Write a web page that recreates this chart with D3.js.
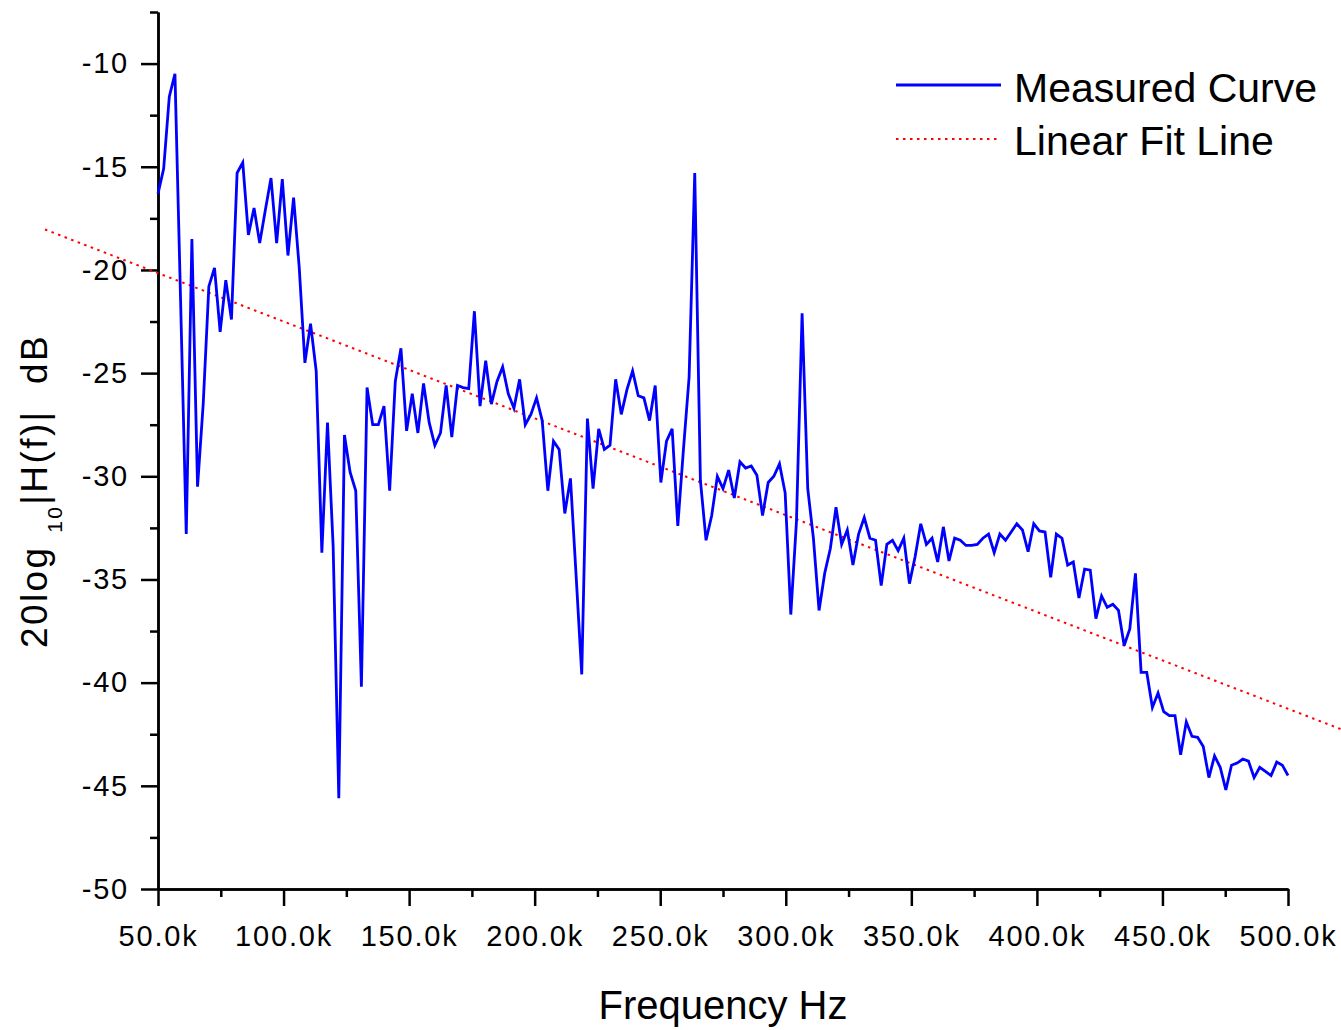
<!DOCTYPE html>
<html>
<head>
<meta charset="utf-8">
<script src="https://cdn.jsdelivr.net/npm/d3@7"></script>
<style>
  body { margin: 0; background: #fff; }
  svg { display: block; font-family: "Liberation Sans", Arial, sans-serif; }
</style>
</head>
<body>
<svg id="chart" width="1341" height="1030"></svg>
<script>
// frequency grid, kHz
const freqs = [
  50, 52.25, 54.5, 56.75, 59, 61.25, 63.5, 65.75,
  68, 70.25, 72.5, 74.75, 77, 79.25, 81.5, 83.75,
  86, 88.25, 90.5, 92.75, 95, 97.25, 99.5, 101.75,
  104, 106.25, 108.5, 110.75, 113, 115.25, 117.5, 119.75,
  122, 124.25, 126.5, 128.75, 131, 133.25, 135.5, 137.75,
  140, 142.25, 144.5, 146.75, 149, 151.25, 153.5, 155.75,
  158, 160.25, 162.5, 164.75, 167, 169.25, 171.5, 173.75,
  176, 178.25, 180.5, 182.75, 185, 187.25, 189.5, 191.75,
  194, 196.25, 198.5, 200.75, 203, 205.25, 207.5, 209.75,
  212, 214.25, 216.5, 218.75, 221, 223.25, 225.5, 227.75,
  230, 232.25, 234.5, 236.75, 239, 241.25, 243.5, 245.75,
  248, 250.25, 252.5, 254.75, 257, 259.25, 261.5, 263.75,
  266, 268.25, 270.5, 272.75, 275, 277.25, 279.5, 281.75,
  284, 286.25, 288.5, 290.75, 293, 295.25, 297.5, 299.75,
  302, 304.25, 306.5, 308.75, 311, 313.25, 315.5, 317.75,
  320, 322.25, 324.5, 326.75, 329, 331.25, 333.5, 335.75,
  338, 340.25, 342.5, 344.75, 347, 349.25, 351.5, 353.75,
  356, 358.25, 360.5, 362.75, 365, 367.25, 369.5, 371.75,
  374, 376.25, 378.5, 380.75, 383, 385.25, 387.5, 389.75,
  392, 394.25, 396.5, 398.75, 401, 403.25, 405.5, 407.75,
  410, 412.25, 414.5, 416.75, 419, 421.25, 423.5, 425.75,
  428, 430.25, 432.5, 434.75, 437, 439.25, 441.5, 443.75,
  446, 448.25, 450.5, 452.75, 455, 457.25, 459.5, 461.75,
  464, 466.25, 468.5, 470.75, 473, 475.25, 477.5, 479.75,
  482, 484.25, 486.5, 488.75, 491, 493.25, 495.5, 497.75,
  500
]

// measured |H(f)| in dB
const measured = [
  -16.3, -15.1, -11.6, -10.5, -21.5, -32.8, -18.5, -30.5,
  -26.5, -20.8, -19.9, -23.0, -20.5, -22.4, -15.3, -14.8,
  -18.3, -17.0, -18.7, -17.1, -15.55, -18.7, -15.6, -19.3,
  -16.5, -19.9, -24.5, -22.6, -24.9, -33.7, -27.4, -33.4,
  -45.6, -28.0, -29.8, -30.7, -40.2, -25.7, -27.5, -27.5,
  -26.6, -30.7, -25.4, -23.8, -27.8, -26.0, -27.9, -25.5,
  -27.4, -28.5, -27.9, -25.6, -28.1, -25.6, -25.7, -25.75,
  -22.0, -26.6, -24.4, -26.5, -25.4, -24.7, -26.0, -26.7,
  -25.3, -27.5, -27.0, -26.2, -27.3, -30.7, -28.3, -28.7,
  -31.8, -30.1, -34.8, -39.6, -27.2, -30.6, -27.7, -28.7,
  -28.5, -25.3, -27.0, -25.8, -24.9, -26.1, -26.2, -27.3,
  -25.6, -30.3, -28.3, -27.7, -32.4, -28.7, -25.2, -15.3,
  -30.2, -33.1, -31.9, -30.0, -30.6, -29.7, -31.05, -29.3,
  -29.6, -29.5, -29.95, -31.9, -30.3, -30.0, -29.4, -30.8,
  -36.7, -32.2, -22.1, -30.6, -33.0, -36.5, -34.7, -33.5,
  -31.5, -33.3, -32.6, -34.3, -32.8, -32.0, -33.0, -33.1,
  -35.3, -33.3, -33.1, -33.6, -33.0, -35.2, -33.9, -32.3,
  -33.3, -33.0, -34.15, -32.45, -34.1, -33.0, -33.1, -33.35,
  -33.35, -33.3, -33.0, -32.8, -33.7, -32.8, -33.1, -32.7,
  -32.3, -32.6, -33.65, -32.3, -32.65, -32.7, -34.9, -32.8,
  -33.0, -34.3, -34.15, -35.9, -34.5, -34.55, -36.9, -35.8,
  -36.35, -36.2, -36.5, -38.2, -37.4, -34.7, -39.5, -39.5,
  -41.2, -40.5, -41.4, -41.6, -41.6, -43.5, -41.9, -42.6,
  -42.65, -43.1, -44.6, -43.55, -44.1, -45.2, -44.0, -43.9,
  -43.7, -43.8, -44.6, -44.1, -44.3, -44.5, -43.85, -44.0,
  -44.5
]

// linear fit end points
const fitFreqs = [5, 525]
const fitDb = [-18.04, -42.44]

const xTicks = [50, 100, 150, 200, 250, 300, 350, 400, 450, 500]
const xMinor = [75, 125, 175, 225, 275, 325, 375, 425, 475]
const yTicks = [-50, -45, -40, -35, -30, -25, -20, -15, -10]
const yMinor = [-47.5, -42.5, -37.5, -32.5, -27.5, -22.5, -17.5, -12.5, -7.5]

const legendItems = ["Measured Curve", "Linear Fit Line"]

const M = { left: 158, right: 1288, top: 12, bottom: 889 }
const svg = d3.select("#chart")

const x = d3.scaleLinear().domain([50, 500]).range([M.left, M.right])
const y = d3.scaleLinear().domain([-50, -7.5]).range([M.bottom, M.top])

const styleAxis = g => {
    g.select(".domain").attr("stroke", "#000").attr("stroke-width", 2.5)
    g.selectAll(".tick line").attr("stroke", "#000").attr("stroke-width", 2.5)
}
const styleLabels = g => g.selectAll(".tick text")
    .attr("fill", "#000")
    .style("font-size", "29px")
    .style("letter-spacing", "1.8px")
    .style("font-family", "Liberation Sans, Arial, sans-serif")

// minor ticks first, then major
svg.append("g")
    .attr("transform", `translate(0,${M.bottom})`)
    .call(d3.axisBottom(x).tickValues(xMinor).tickSize(8).tickSizeOuter(0).tickFormat(""))
    .call(styleAxis)

svg.append("g")
    .attr("transform", `translate(0,${M.bottom})`)
    .call(d3.axisBottom(x).tickValues(xTicks).tickSize(17).tickSizeOuter(0)
        .tickFormat(d => d.toFixed(1) + "k"))
    .call(styleAxis)
    .call(styleLabels)
    .call(g => g.selectAll(".tick text").attr("y", 57).attr("dy", null))

svg.append("g")
    .attr("transform", `translate(${M.left},0)`)
    .call(d3.axisLeft(y).tickValues(yMinor).tickSize(8).tickSizeOuter(0).tickFormat(""))
    .call(styleAxis)

svg.append("g")
    .attr("transform", `translate(${M.left},0)`)
    .call(d3.axisLeft(y).tickValues(yTicks).tickSize(17).tickSizeOuter(0).tickPadding(12)
        .tickFormat(d => String(d)))
    .call(styleAxis)
    .call(styleLabels)

// fit line (runs past the plot area like the original)
svg.append("path")
    .datum(fitFreqs.map((f, i) => [f, fitDb[i]]))
    .attr("fill", "none")
    .attr("stroke", "#ff0000")
    .attr("stroke-width", 2)
    .attr("stroke-dasharray", "2.5 4.5")
    .attr("d", d3.line().x(d => x(d[0])).y(d => y(d[1])))

// measured curve
svg.append("path")
    .datum(freqs.map((f, i) => [f, measured[i]]))
    .attr("fill", "none")
    .attr("stroke", "#0000ff")
    .attr("stroke-width", 2.8)
    .attr("d", d3.line().x(d => x(d[0])).y(d => y(d[1])))

// axis titles
svg.append("text")
    .attr("x", (M.left + M.right) / 2)
    .attr("y", 1019)
    .attr("text-anchor", "middle")
    .style("font-size", "40px")
    .text("Frequency Hz")

const yTitle = svg.append("text")
    .attr("transform", "translate(47,491) rotate(-90)")
    .attr("text-anchor", "middle")
    .attr("xml:space", "preserve")
    .style("font-size", "37px")
    .style("letter-spacing", "2.4px")
yTitle.append("tspan").text("20log ")
yTitle.append("tspan").attr("dy", 15).style("font-size", "21px").text("10")
yTitle.append("tspan").attr("dy", -15).text("|H(f)|  dB")

// legend
const legend = svg.append("g")
legend.append("line")
    .attr("x1", 896).attr("x2", 1001).attr("y1", 85).attr("y2", 85)
    .attr("stroke", "#0000ff").attr("stroke-width", 2.8)
legend.append("line")
    .attr("x1", 896).attr("x2", 1001).attr("y1", 139).attr("y2", 139)
    .attr("stroke", "#ff0000").attr("stroke-width", 2)
    .attr("stroke-dasharray", "2.5 4.5")
legend.selectAll("text")
    .data(legendItems)
    .join("text")
    .attr("x", 1014)
    .attr("y", (d, i) => 102 + i * 53)
    .style("font-size", "41px")
    .text(d => d)
</script>
</body>
</html>
